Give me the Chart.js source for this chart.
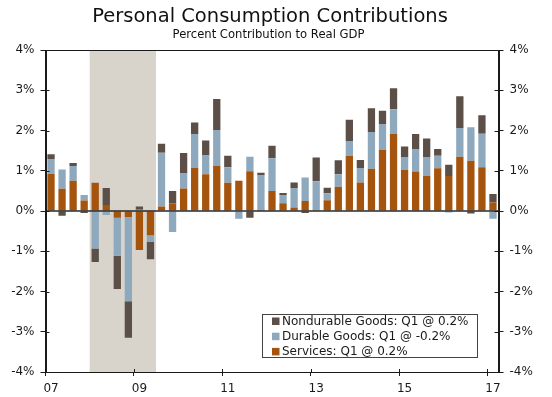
<!DOCTYPE html>
<html><head><meta charset="utf-8">
<script src="https://cdn.jsdelivr.net/npm/chart.js@4/dist/chart.umd.min.js"></script>
<style>html,body{margin:0;padding:0;background:#fff;}#wrap{width:552px;height:397px;position:relative;}</style>
</head><body><div id="wrap"><canvas id="c" width="552" height="397"></canvas></div>
<script>
const quarters = ['2007Q1','2007Q2','2007Q3','2007Q4','2008Q1','2008Q2','2008Q3','2008Q4',
 '2009Q1','2009Q2','2009Q3','2009Q4','2010Q1','2010Q2','2010Q3','2010Q4',
 '2011Q1','2011Q2','2011Q3','2011Q4','2012Q1','2012Q2','2012Q3','2012Q4',
 '2013Q1','2013Q2','2013Q3','2013Q4','2014Q1','2014Q2','2014Q3','2014Q4',
 '2015Q1','2015Q2','2015Q3','2015Q4','2016Q1','2016Q2','2016Q3','2016Q4','2017Q1'];
const services = [0.92,0.55,0.75,0.26,0.70,0.15,-0.17,-0.15,
 -0.97,-0.60,0.11,0.19,0.56,1.07,0.91,1.12,
 0.70,0.75,0.99,0.03,0.50,0.19,0.09,0.25,
 0.02,0.27,0.60,1.37,0.71,1.05,1.52,1.91,
 1.02,0.98,0.87,1.06,0.87,1.35,1.25,1.09,0.21];
const durable = [0.37,0.48,0.37,0.14,-0.93,-0.10,-0.94,-2.09,
 0.03,-0.17,1.34,-0.52,0.37,0.84,0.47,0.89,
 0.39,-0.19,0.36,0.85,0.81,0.21,0.48,0.58,
 0.72,0.17,0.31,0.37,0.36,0.91,0.64,0.62,
 0.31,0.55,0.47,0.31,-0.04,0.71,0.83,0.83,-0.19];
const nondurable = [0.12,-0.12,0.07,-0.05,-0.34,0.42,-0.83,-0.91,
 0.08,-0.43,0.22,0.31,0.51,0.29,0.37,0.77,
 0.28,0.00,-0.17,0.07,0.31,0.05,0.14,-0.05,
 0.59,0.14,0.35,0.53,0.20,0.59,0.33,0.52,
 0.27,0.38,0.46,0.17,0.28,0.79,-0.06,0.46,0.21];
const seriesNames = ['Services: Q1 @ 0.2%','Durable Goods: Q1 @ -0.2%','Nondurable Goods: Q1 @ 0.2%'];
const seriesColors = ['#a5540e','#8ea9be','#5b4f47'];
const tickQuarters = ['2007Q1','2009Q1','2011Q1','2013Q1','2015Q1','2017Q1'];
const tickLabels = ['07','09','11','13','15','17'];
const yTicks = [-4,-3,-2,-1,0,1,2,3,4];
const recessionStart = '2008Q1', recessionEnd = '2009Q2';
const titleText = 'Personal Consumption Contributions';
const subtitleText = 'Percent Contribution to Real GDP';

const FONT = '"DejaVu Sans", Verdana, sans-serif';
const INK = '#1a1a1a';

const decor = {
  id: 'decor',
  beforeDatasetsDraw(chart) {
    const {ctx, chartArea: a, scales: {x}} = chart;
    const half = (x.getPixelForValue(1) - x.getPixelForValue(0)) / 2;
    const x0 = x.getPixelForValue(quarters.indexOf(recessionStart)) - half;
    const x1 = x.getPixelForValue(quarters.indexOf(recessionEnd)) + half;
    ctx.save();
    ctx.fillStyle = '#d9d4cb';
    ctx.fillRect(x0, a.top, x1 - x0, a.bottom - a.top);
    ctx.restore();
  },
  afterDatasetsDraw(chart) {
    const {ctx, chartArea: a, scales: {x, y}} = chart;
    ctx.save();
    // zero line
    const y0 = y.getPixelForValue(0);
    ctx.strokeStyle = '#2a2a2a';
    ctx.lineWidth = 1.5;
    ctx.beginPath(); ctx.moveTo(a.left, y0); ctx.lineTo(a.right, y0); ctx.stroke();
    // frame
    ctx.lineWidth = 1;
    ctx.strokeStyle = INK;
    ctx.strokeRect(Math.round(a.left) + 0.5, Math.round(a.top) + 0.5, Math.round(a.right) - Math.round(a.left), Math.round(a.bottom) - Math.round(a.top));
    // inner tick marks
    ctx.beginPath();
    yTicks.forEach(v => {
      const py = Math.round(y.getPixelForValue(v)) + 0.5;
      ctx.moveTo(a.left, py); ctx.lineTo(a.left + 4, py);
      ctx.moveTo(a.right - 4, py); ctx.lineTo(a.right, py);
    });
    const half = (x.getPixelForValue(1) - x.getPixelForValue(0)) / 2;
    tickQuarters.forEach(q => {
      const px = Math.round(x.getPixelForValue(quarters.indexOf(q)) - half) + 0.5;
      ctx.moveTo(px, a.bottom); ctx.lineTo(px, a.bottom - 3);
    });
    ctx.stroke();
    ctx.restore();
  },
  afterDraw(chart) {
    const {ctx} = chart;
    ctx.save();
    ctx.fillStyle = '#111';
    ctx.textAlign = 'center';
    ctx.textBaseline = 'alphabetic';
    ctx.font = '19.5px ' + FONT;
    ctx.fillText(titleText, 270, 22);
    ctx.font = '11.6px ' + FONT;
    ctx.fillText(subtitleText, 268.5, 38);
    // legend
    const bx = 262.5, by = 314.5, bw = 215, bh = 43;
    ctx.fillStyle = '#fff';
    ctx.fillRect(bx, by, bw, bh);
    ctx.strokeStyle = '#444';
    ctx.lineWidth = 1;
    ctx.strokeRect(bx, by, bw, bh);
    ctx.textAlign = 'left';
    ctx.textBaseline = 'middle';
    ctx.font = '12px ' + FONT;
    const ds = chart.data.datasets.slice().reverse();
    ds.forEach((d, i) => {
      const cy = 321 + i * 15.2;
      ctx.fillStyle = d.backgroundColor;
      ctx.fillRect(272, cy - 3.5, 7.5, 7.5);
      ctx.fillStyle = INK;
      ctx.fillText(d.label, 282, cy + 0.5);
    });
    ctx.restore();
  }
};

const tickFont = {family: FONT, size: 12};
new Chart(document.getElementById('c').getContext('2d'), {
  type: 'bar',
  data: {
    labels: quarters,
    datasets: [
      {label: seriesNames[0], data: services, backgroundColor: seriesColors[0]},
      {label: seriesNames[1], data: durable, backgroundColor: seriesColors[1]},
      {label: seriesNames[2], data: nondurable, backgroundColor: seriesColors[2]}
    ]
  },
  options: {
    responsive: false,
    animation: false,
    devicePixelRatio: 1,
    layout: {padding: {top: 50, left: 0, right: 0, bottom: 0}},
    datasets: {bar: {categoryPercentage: 1, barPercentage: 0.66, borderWidth: 0}},
    plugins: {legend: {display: false}, title: {display: false}, tooltip: {enabled: false}},
    scales: {
      x: {
        stacked: true, offset: true,
        grid: {offset: true, drawOnChartArea: false, tickLength: 4,
          color: c => (c.index !== undefined && tickQuarters.includes(quarters[c.index])) ? INK : 'rgba(0,0,0,0)'},
        border: {display: true, color: INK, width: 1},
        ticks: {autoSkip: false, maxRotation: 0, minRotation: 0, padding: 6, color: INK, font: tickFont,
          callback: (v, i) => { const k = tickQuarters.indexOf(quarters[i]); return k >= 0 ? tickLabels[k] : ''; }},
        afterFit: s => { s.height = 25; }
      },
      y: {
        stacked: true, position: 'left', min: -4, max: 4,
        grid: {drawOnChartArea: false, tickLength: 5, color: INK},
        border: {display: true, color: INK, width: 1},
        ticks: {stepSize: 1, padding: 6, color: INK, font: tickFont, callback: v => v + '%'},
        afterFit: s => { s.width = 45.5; }
      },
      y2: {
        position: 'right', min: -4, max: 4,
        grid: {drawOnChartArea: false, tickLength: 5, color: INK},
        border: {display: true, color: INK, width: 1},
        ticks: {stepSize: 1, padding: 6, color: INK, font: tickFont, callback: v => v + '%'},
        afterFit: s => { s.width = 53.5; }
      }
    }
  },
  plugins: [decor]
});
</script></body></html>
